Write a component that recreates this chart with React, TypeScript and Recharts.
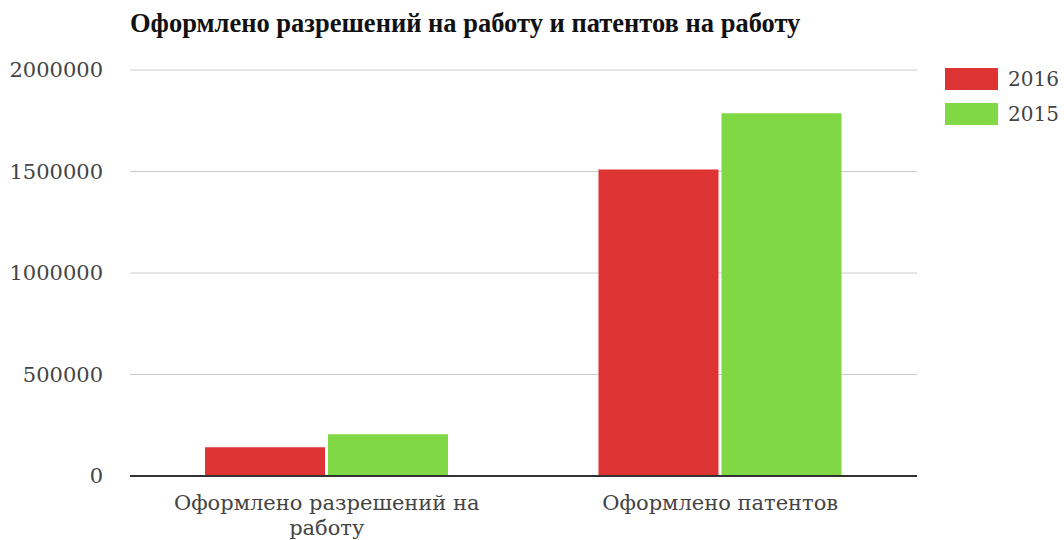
import React from 'react';
import { BarChart, Bar, XAxis, YAxis, CartesianGrid } from 'recharts';

const categories = ['Оформлено разрешений на работу', 'Оформлено патентов'];
const categoryLines = [['Оформлено разрешений на', 'работу'], ['Оформлено патентов']];
const values2016 = [142000, 1510000];
const values2015 = [206000, 1787000];
const yTicks = [0, 500000, 1000000, 1500000, 2000000];
const seriesNames = ['2016', '2015'];
const seriesColors = ['#dd3333', '#80d844'];

const data = categories.map((c, i) => ({ name: c, s2016: values2016[i], s2015: values2015[i] }));

const FONT = '"DejaVu Serif", serif';

const XTick = (props: any) => {
  const { x, y, payload } = props;
  const idx = categories.indexOf(payload.value);
  const lines = idx >= 0 ? categoryLines[idx] : [payload.value];
  return (
    <text x={x} y={y} textAnchor="middle" style={{ fontFamily: FONT, fontSize: 21, fill: '#444' }}>
      {lines.map((l: string, i: number) => (
        <tspan key={i} x={x} dy={i === 0 ? 26 : 25}>{l}</tspan>
      ))}
    </text>
  );
};

export default function App() {
  return (
    <div style={{ position: 'absolute', left: 0, top: 0, width: 1064, height: 540, background: '#fff' }}>
      <div style={{ position: 'absolute', left: 130, top: 8, fontFamily: '"Liberation Serif", serif', fontWeight: 'bold', fontSize: 26.5, color: '#111', whiteSpace: 'nowrap' }}>
        Оформлено разрешений на работу и патентов на работу
      </div>
      <div style={{ position: 'absolute', left: 945, top: 68, fontFamily: FONT, fontSize: 20, color: '#444' }}>
        {seriesNames.map((n, i) => (
          <div key={n} style={{ display: 'flex', alignItems: 'center', height: 22, marginBottom: 13 }}>
            <div style={{ width: 53, height: 22, background: seriesColors[i], marginRight: 10 }} />
            <span>{n}</span>
          </div>
        ))}
      </div>
      <BarChart width={1064} height={540} data={data} margin={{ top: 70, right: 147, left: 0, bottom: 0 }}
        barCategoryGap={75} barGap={3}>
        <CartesianGrid vertical={false} stroke="#cccccc" />
        <XAxis dataKey="name" height={64} tick={<XTick />} tickLine={false} axisLine={{ stroke: '#333', strokeWidth: 2 }} interval={0} />
        <YAxis width={130} domain={[0, 2000000]} ticks={yTicks} tickLine={false} axisLine={false} tickMargin={21}
          tick={{ fontFamily: FONT, fontSize: 21, fill: '#444' }} />
        <Bar dataKey="s2016" name="2016" fill={seriesColors[0]} isAnimationActive={false} />
        <Bar dataKey="s2015" name="2015" fill={seriesColors[1]} isAnimationActive={false} />
      </BarChart>
    </div>
  );
}
